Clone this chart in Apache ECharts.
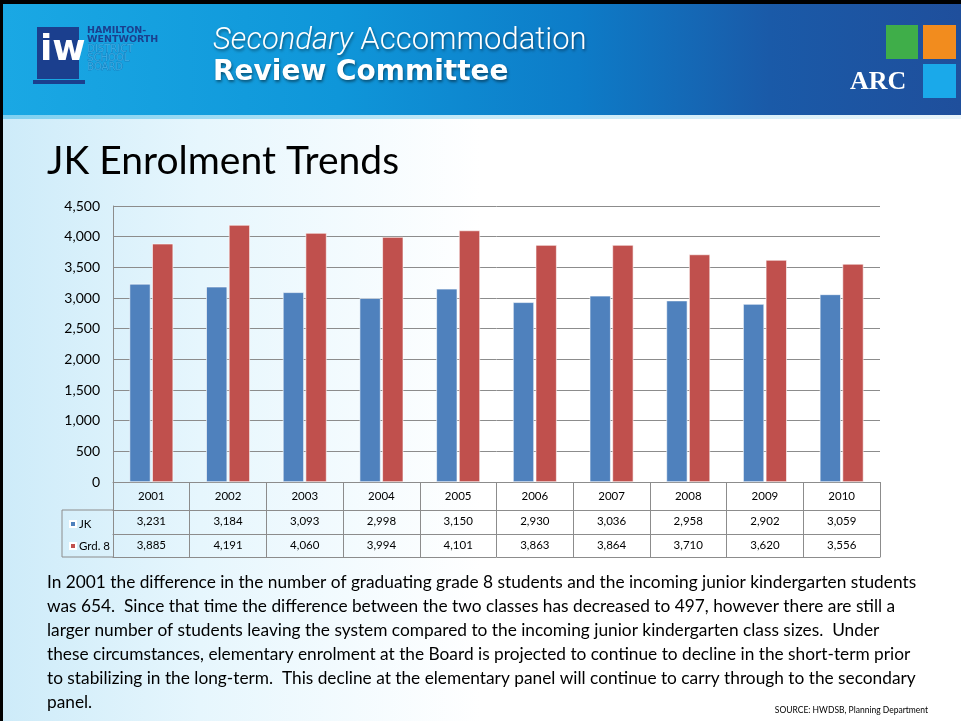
<!DOCTYPE html>
<html>
<head>
<meta charset="utf-8">
<script src="https://cdn.jsdelivr.net/npm/echarts@6/dist/echarts.min.js"></script>
<style>
html,body{margin:0;padding:0;}
body{width:961px;height:721px;overflow:hidden;background:linear-gradient(to right,#cdebf9 0px,#e6f6fd 200px,#ffffff 480px,#ffffff 961px);}
#c{position:absolute;left:0;top:0;width:961px;height:721px;}
</style>
</head>
<body>
<div id="c"></div>
<script>
// ---- data ----
const years = ['2001','2002','2003','2004','2005','2006','2007','2008','2009','2010'];
const jk = [3231,3184,3093,2998,3150,2930,3036,2958,2902,3059];
const grd8 = [3885,4191,4060,3994,4101,3863,3864,3710,3620,3556];
const seriesNames = ['JK','Grd. 8'];
const yMin = 0, yMax = 4500, yStep = 500;
const titleText = 'JK Enrolment Trends';
const bodyLines = [
 'In 2001 the difference in the number of graduating grade 8 students and the incoming junior kindergarten students',
 'was 654.  Since that time the difference between the two classes has decreased to 497, however there are still a',
 'larger number of students leaving the system compared to the incoming junior kindergarten class sizes.  Under',
 'these circumstances, elementary enrolment at the Board is projected to continue to decline in the short-term prior',
 'to stabilizing in the long-term.  This decline at the elementary panel will continue to carry through to the secondary',
 'panel.'
];
const sourceText = 'SOURCE: HWDSB, Planning Department';

// ---- layout ----
const G = {left:113, right:880, top:206, bottom:482};
const rowH = [28, 24, 23];
const FONT = 'Lato, "Open Sans", sans-serif';
const fmt = v => v.toLocaleString('en-US');
const lineCol = '#8c8c8c';

const chart = echarts.init(document.getElementById('c'), null, {renderer:'canvas'});

function tableAxis(offset, tickLen, formatter, margin){
  return {
    type:'category', gridIndex:0, data:years, position:'bottom', offset:offset,
    axisLine:{show:true, lineStyle:{color:lineCol, width:1}},
    axisTick:{show: tickLen>0, interval:0, alignWithLabel:false, length:tickLen, lineStyle:{color:lineCol}},
    axisLabel:{show: !!formatter, interval:0, margin:margin, color:'#000', fontFamily:FONT, fontSize:11.5,
      formatter: formatter || (v=>v)},
    splitLine:{show:false}
  };
}

const row1 = G.bottom + rowH[0], row2 = row1 + rowH[1], row3 = row2 + rowH[2];

const option = {
  animation:false,
  backgroundColor:'transparent',
  grid:{left:G.left, top:G.top, width:G.right-G.left, height:G.bottom-G.top, containLabel:false},
  xAxis:[
    tableAxis(0, rowH[0], (v)=>v, 8),
    tableAxis(rowH[0], rowH[1], (v,i)=>fmt(jk[i]), 5),
    tableAxis(rowH[0]+rowH[1], rowH[2], (v,i)=>fmt(grd8[i]), 5),
    tableAxis(rowH[0]+rowH[1]+rowH[2], 0, null, 0)
  ],
  yAxis:{
    type:'value', min:yMin, max:yMax, interval:yStep,
    axisLine:{show:true, lineStyle:{color:lineCol}},
    axisTick:{show:false},
    axisLabel:{color:'#000', fontFamily:FONT, fontSize:14, margin:13, formatter:v=>fmt(v)},
    splitLine:{show:true, lineStyle:{color:lineCol, width:1}}
  },
  legend:{
    orient:'vertical', left:64, top:row1+2, itemGap:8,
    icon:'rect', itemWidth:6, itemHeight:6,
    textStyle:{color:'#000', fontFamily:FONT, fontSize:11.5, lineHeight:14, padding:[0,0,0,-2]},
    selectedMode:false, data:seriesNames
  },
  series:[
    {name:seriesNames[0], type:'bar', xAxisIndex:0, data:jk, barWidth:21, barGap:'8%',
     itemStyle:{color:'#4f81bd', borderColor:'#ffffff', borderWidth:0.6}},
    {name:seriesNames[1], type:'bar', xAxisIndex:0, data:grd8, barWidth:21,
     itemStyle:{color:'#c0504d', borderColor:'#ffffff', borderWidth:0.6}}
  ],
  graphic:[
    // header band
    {type:'rect', left:3, top:3, shape:{width:958, height:115}, z:-10, silent:true,
     style:{fill:new echarts.graphic.LinearGradient(0,0,1,0,[
       {offset:0,color:'#1aa8e4'},{offset:0.35,color:'#0f96d9'},{offset:0.6,color:'#0d7cc8'},{offset:0.8,color:'#1a5aa8'},{offset:1,color:'#1f4f9c'}])}},
    {type:'rect', left:3, top:115, shape:{width:958, height:4}, z:-9, silent:true,
     style:{fill:new echarts.graphic.LinearGradient(0,0,1,0,[{offset:0,color:'#7fd0f0'},{offset:0.5,color:'#c5e9f8'},{offset:1,color:'#e8f4fa'}])}},
    // black frame
    {type:'rect', left:0, top:0, shape:{width:961, height:4}, style:{fill:'#000'}, z:5, silent:true},
    {type:'rect', left:0, top:0, shape:{width:3, height:721}, style:{fill:'#000'}, z:5, silent:true},
    // HWDSB logo
    {type:'rect', left:37, top:27, shape:{width:42, height:52}, style:{fill:'#1b3f8e'}, silent:true},
    {type:'text', left:40, top:33, style:{text:'iw', fill:'#fff', font:'bold 36px "DejaVu Sans"'}, silent:true},
    {type:'rect', left:33, top:80, shape:{width:52, height:4}, style:{fill:'#1b3f8e'}, silent:true},
    {type:'text', left:87, top:26, style:{text:'HAMILTON-\nWENTWORTH', fill:'#1b3f8e', font:'bold 9.5px "DejaVu Sans"', lineHeight:9}, silent:true},
    {type:'text', left:87, top:44, style:{text:'DISTRICT\nSCHOOL\nBOARD', fill:'#3aa8e0', stroke:'#1b5f9e', lineWidth:0.4, font:'10px "DejaVu Sans"', lineHeight:9}, silent:true},
    // header title
    {type:'text', left:213, top:26, silent:true,
     style:{text:'{i|Secondary} Accommodation', fill:'#fff', textShadowColor:'rgba(0,0,0,0.45)', textShadowBlur:3, textShadowOffsetX:1, textShadowOffsetY:2,
       font:'300 31px Roboto',
       rich:{i:{fontStyle:'italic', fontWeight:300, fontSize:31, fontFamily:'Roboto', fill:'#fff'}}}},
    {type:'text', left:213, top:59, silent:true,
     style:{text:'Review Committee', fill:'#fff', font:'bold 28px "DejaVu Sans"', textShadowColor:'rgba(0,0,0,0.45)', textShadowBlur:3, textShadowOffsetX:1, textShadowOffsetY:2}},
    // ARC logo
    {type:'rect', left:886, top:25, shape:{width:32, height:34}, style:{fill:'#3fae49'}, silent:true},
    {type:'rect', left:923, top:25, shape:{width:33, height:34}, style:{fill:'#f28c1e'}, silent:true},
    {type:'rect', left:923, top:64, shape:{width:33, height:34}, style:{fill:'#1aa9ea'}, silent:true},
    {type:'text', left:850, top:69, style:{text:'ARC', fill:'#fff', font:'bold 26px "Liberation Serif"'}, silent:true},
    // slide title
    {type:'text', left:47, top:142, style:{text:titleText, fill:'#000', font:'39px '+FONT}, silent:true},
    // table label column borders
    {type:'line', shape:{x1:62, y1:row1, x2:G.left, y2:row1}, style:{stroke:lineCol, lineWidth:1}, silent:true},
    {type:'line', shape:{x1:62, y1:row3, x2:G.left, y2:row3}, style:{stroke:lineCol, lineWidth:1}, silent:true},
    {type:'line', shape:{x1:62, y1:row1, x2:62, y2:row3}, style:{stroke:lineCol, lineWidth:1}, silent:true},
    // body paragraph
    {type:'text', left:47, top:570, style:{text:bodyLines.join('\n'), fill:'#000', font:'17.3px '+FONT, lineHeight:24}, silent:true},
    {type:'text', right:33, top:706, style:{text:sourceText, fill:'#000', font:'8.5px '+FONT}, silent:true}
  ]
};
chart.setOption(option);
</script>
</body>
</html>
